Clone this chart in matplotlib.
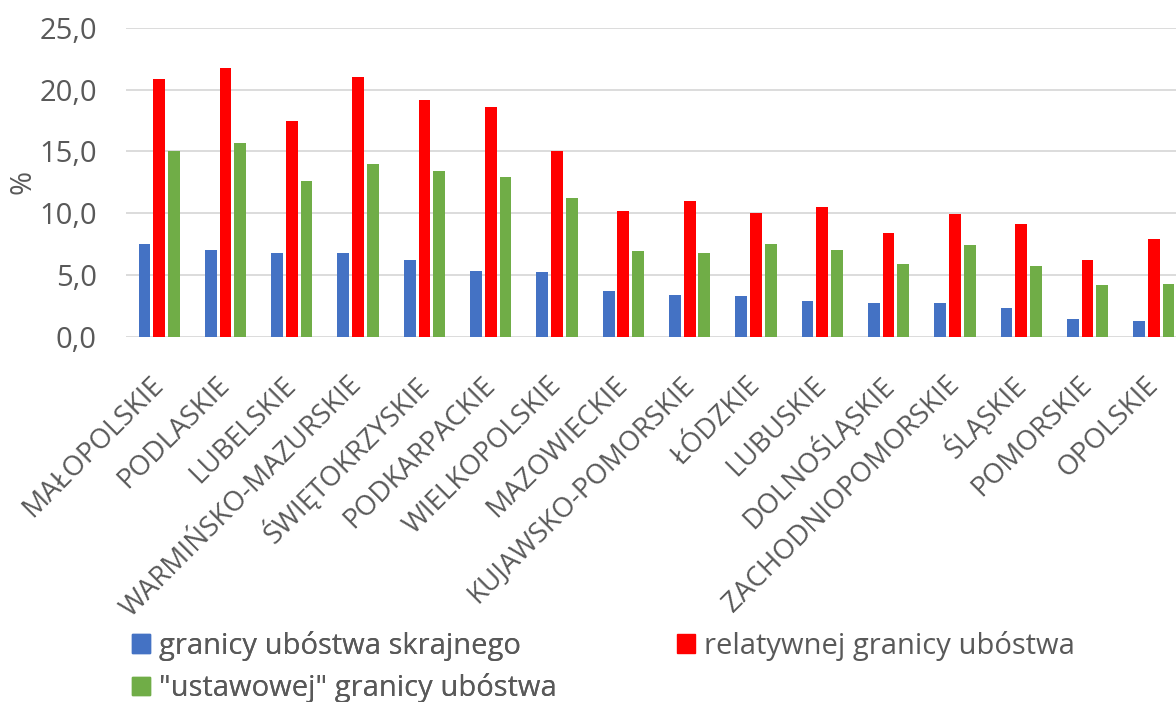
import matplotlib
matplotlib.use("Agg")
import matplotlib.pyplot as plt
import numpy as np
from matplotlib.ticker import FuncFormatter, MultipleLocator
from matplotlib.patches import Patch

categories = ["MAŁOPOLSKIE", "PODLASKIE", "LUBELSKIE", "WARMIŃSKO-MAZURSKIE",
              "ŚWIĘTOKRZYSKIE", "PODKARPACKIE", "WIELKOPOLSKIE", "MAZOWIECKIE",
              "KUJAWSKO-POMORSKIE", "ŁÓDZKIE", "LUBUSKIE", "DOLNOŚLĄSKIE",
              "ZACHODNIOPOMORSKIE", "ŚLĄSKIE", "POMORSKIE", "OPOLSKIE"]
skrajne = [7.5, 7.0, 6.8, 6.8, 6.2, 5.3, 5.2, 3.7, 3.4, 3.3, 2.9, 2.7, 2.7, 2.3, 1.4, 1.3]
relatywne = [20.9, 21.8, 17.5, 21.0, 19.2, 18.6, 15.0, 10.2, 11.0, 10.0, 10.5, 8.4, 9.9, 9.1, 6.2, 7.9]
ustawowe = [15.0, 15.7, 12.6, 14.0, 13.4, 12.9, 11.2, 6.9, 6.8, 7.5, 7.0, 5.9, 7.4, 5.7, 4.2, 4.3]
series_names = ["granicy ubóstwa skrajnego", "relatywnej granicy ubóstwa", "\"ustawowej\" granicy ubóstwa"]
colors = ["#4472C4", "#FF0000", "#70AD47"]

plt.rcParams['font.family'] = ['Open Sans', 'DejaVu Sans']
text_color = "#595959"

fig = plt.figure(figsize=(11.76, 7.02), dpi=100)
W, H = 1176, 702
left, right = 126, 1187
top, bottom = 28, 336.7
ax = fig.add_axes([left / W, 1 - bottom / H, (right - left) / W, (bottom - top) / H])

x = np.arange(len(categories))
step = 0.222
bw = 0.178
for i, (vals, c) in enumerate(zip([skrajne, relatywne, ustawowe], colors)):
    ax.bar(x + (i - 1) * step, vals, width=bw, color=c, zorder=3)

ax.set_xlim(-0.5, len(categories) - 0.5)
ax.set_ylim(0, 25)
ax.yaxis.set_major_locator(MultipleLocator(5))
ax.yaxis.set_major_formatter(FuncFormatter(lambda v, p: f"{v:.1f}".replace(".", ",")))
ax.grid(axis='y', color="#d9d9d9", linewidth=1.3, zorder=0)
ax.set_axisbelow(True)
for s in ax.spines.values():
    s.set_visible(False)
ax.tick_params(axis='both', length=0, colors=text_color)
ax.tick_params(axis='y', pad=21, labelsize=21)
ax.set_xticks(x)
ax.set_xticklabels(categories, rotation=45, ha='right', va='center', rotation_mode='anchor',
                   fontsize=20)
ax.tick_params(axis='x', pad=32)
fig.text(23 / W, 1 - 182 / H, "%", rotation=90, ha='center', va='center',
         fontsize=21, color=text_color)

common = dict(frameon=False, fontsize=21, labelcolor=text_color,
              handlelength=0.62, handleheight=0.6, handletextpad=0.3,
              labelspacing=0.42, borderaxespad=0, borderpad=0)
leg1 = fig.legend([Patch(color=colors[0]), Patch(color=colors[2])],
                  [series_names[0], series_names[2]],
                  loc='center left', bbox_to_anchor=(132 / W, 1 - 667 / H), **common)
fig.add_artist(leg1)
leg2 = fig.legend([Patch(color=colors[1])], [series_names[1]],
                  loc='center left', bbox_to_anchor=(677 / W, 1 - 646 / H), **common)

fig.savefig("out.png", dpi=100)
